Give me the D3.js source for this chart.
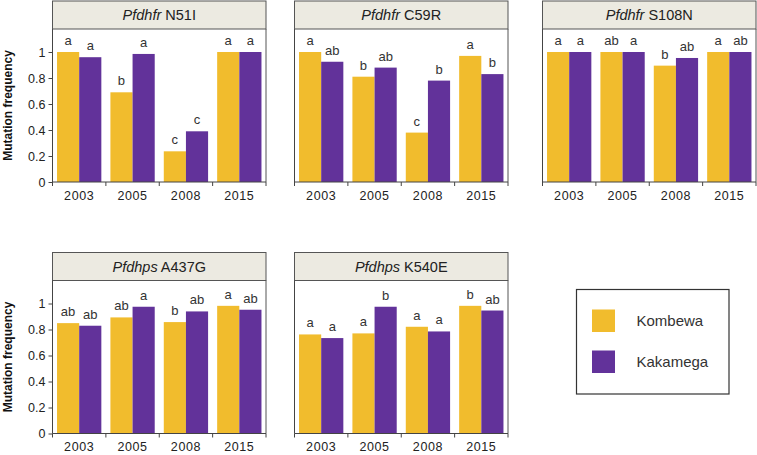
<!DOCTYPE html>
<html><head><meta charset="utf-8">
<script src="https://cdn.jsdelivr.net/npm/d3@7/dist/d3.min.js"></script>
<style>
body{margin:0;background:#fff;}
svg{font-family:"Liberation Sans",Arial,sans-serif;}
</style></head>
<body><svg id="c" width="757" height="455"></svg>
<script>
const years = ["2003","2005","2008","2015"];
const sites = ["Kombewa","Kakamega"];
const genes = ["Pfdhfr","Pfdhfr","Pfdhfr","Pfdhps","Pfdhps"];
const mutations = ["N51I","C59R","S108N","A437G","K540E"];
const kombewa = [
  [1.00,0.69,0.236,1.00],
  [1.00,0.81,0.38,0.97],
  [1.00,1.00,0.895,1.00],
  [0.849,0.893,0.857,0.982],
  [0.762,0.770,0.821,0.982]
];
const kakamega = [
  [0.96,0.985,0.39,1.00],
  [0.925,0.88,0.78,0.83],
  [1.00,1.00,0.954,1.00],
  [0.829,0.975,0.939,0.952],
  [0.734,0.975,0.785,0.946]
];
const kombewaLetters = [
  ["a","b","c","a"],
  ["a","b","c","a"],
  ["a","ab","b","a"],
  ["ab","ab","b","a"],
  ["a","a","a","b"]
];
const kakamegaLetters = [
  ["a","a","c","a"],
  ["ab","ab","b","b"],
  ["a","a","ab","ab"],
  ["ab","a","ab","ab"],
  ["a","b","a","ab"]
];
const yTicks = [0,0.2,0.4,0.6,0.8,1];
const colors = ["#F1BC2D","#62329A"];

const svg = d3.select("#c");
const colX = [52.5, 294.5, 542.5];
const rowY = [1, 252.5];
const W = 213.5, HH = 28, PH = 153;
const y = d3.scaleLinear().domain([0, 153/130]).range([PH, 0]);
const x0 = d3.scaleBand().domain(years).range([0, W]).paddingInner(0.17).paddingOuter(0.085);
const x1 = d3.scaleBand().domain(sites).range([0, x0.bandwidth()]);
const color = d3.scaleOrdinal().domain(sites).range(colors);

mutations.forEach((m, i) => {
  const col = i < 3 ? i : i - 3;
  const row = i < 3 ? 0 : 1;
  const g = svg.append("g").attr("transform", `translate(${colX[col]},${rowY[row]})`);
  g.append("rect").attr("x",0).attr("y",0).attr("width",W).attr("height",HH)
    .attr("fill","#ECEAE1").attr("stroke","#555").attr("stroke-width",1);
  const t = g.append("text").attr("x",W/2).attr("y",HH/2+5).attr("text-anchor","middle")
    .attr("font-size",14.5).attr("fill","#222");
  t.append("tspan").attr("font-style","italic").text(genes[i]);
  t.append("tspan").text(" " + m);
  const p = g.append("g").attr("transform", `translate(0,${HH})`);
  const data = years.map((yr, j) => ({yr, vals: [
    {site: sites[0], v: kombewa[i][j], l: kombewaLetters[i][j]},
    {site: sites[1], v: kakamega[i][j], l: kakamegaLetters[i][j]}
  ]}));
  const grp = p.selectAll("g.grp").data(data).join("g")
    .attr("transform", d => `translate(${x0(d.yr)},0)`);
  grp.selectAll("rect").data(d => d.vals).join("rect")
    .attr("x", d => x1(d.site)).attr("width", x1.bandwidth())
    .attr("y", d => y(d.v)).attr("height", d => PH - y(d.v))
    .attr("fill", d => color(d.site));
  grp.selectAll("text").data(d => d.vals).join("text")
    .attr("x", d => x1(d.site) + x1.bandwidth()/2).attr("y", d => y(d.v) - 7)
    .attr("text-anchor","middle").attr("font-size",13).attr("fill","#333")
    .text(d => d.l);
  p.append("line").attr("x1",W).attr("x2",W).attr("y1",0).attr("y2",PH)
    .attr("stroke","#555").attr("stroke-width",1);
  const ya = p.append("g").call(d3.axisLeft(y).tickValues(col===0 ? yTicks : []).tickSize(4).tickPadding(3)
      .tickFormat(d3.format("~g")));
  ya.select(".domain").attr("stroke","#444").attr("d", `M0,0V${PH}`);
  ya.selectAll("line").attr("stroke","#444");
  ya.selectAll("text").attr("font-size",12.5).attr("fill","#222").attr("font-family","Liberation Sans, Arial, sans-serif");
  const xa = p.append("g").attr("transform", `translate(0,${PH})`)
    .call(d3.axisBottom(x0).tickSize(0).tickPadding(9));
  xa.select(".domain").attr("stroke","#444").attr("d", `M0,0H${W}`);
  xa.selectAll("text").attr("font-size",12.5).attr("fill","#222").attr("letter-spacing","0.6px")
    .attr("font-family","Liberation Sans, Arial, sans-serif");
  const bounds = [0].concat(years.map(yr => x0(yr) + x0.step() - x0.step()*x0.paddingInner()/2));
  bounds[bounds.length-1] = W;
  xa.selectAll("line.bt").data(bounds).join("line").attr("class","bt")
    .attr("x1", d => d).attr("x2", d => d).attr("y1",0).attr("y2",4)
    .attr("stroke","#444");
  if (col === 0) {
    svg.append("text").attr("transform", `translate(12,${rowY[row]+HH+PH/2}) rotate(-90)`)
      .attr("text-anchor","middle").attr("font-size",12).attr("font-weight","bold").attr("fill","#111")
      .text("Mutation frequency");
  }
});

const lg = svg.append("g").attr("transform","translate(576.5,289.5)");
lg.append("rect").attr("width",152.5).attr("height",104.5).attr("fill","#fff")
  .attr("stroke","#333").attr("stroke-width",1.2);
sites.forEach((s, k) => {
  lg.append("rect").attr("x",15.5).attr("y",20 + k*41).attr("width",23).attr("height",22.5)
    .attr("fill", color(s));
  lg.append("text").attr("x",60).attr("y",31.5 + k*41).attr("dy","0.35em")
    .attr("font-size",15).attr("fill","#333").text(s);
});
</script></body></html>
